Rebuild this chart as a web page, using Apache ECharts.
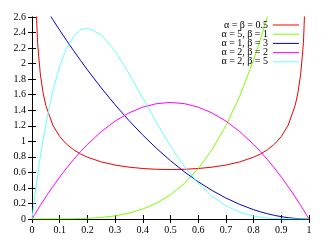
<!DOCTYPE html>
<html><head><meta charset="utf-8">
<script src="https://cdn.jsdelivr.net/npm/echarts@6/dist/echarts.min.js"></script>
<style>html,body{margin:0;padding:0;background:#fff}#c{width:329px;height:249px}</style>
</head><body><div id="c"></div>
<script>
var xs = [0,0.01,0.02,0.03,0.04,0.05,0.075,0.1,0.125,0.15,0.175,0.2,0.25,0.3,0.35,0.4,0.45,0.5,0.55,0.6,0.65,0.7,0.75,0.8,0.825,0.85,0.875,0.9,0.925,0.95,0.96,0.97,0.98,0.99,1];
var names = ['α = β = 0.5','α = 5, β = 1','α = 1, β = 3','α = 2, β = 2','α = 2, β = 5'];
var red = [6,3.199,2.274,1.866,1.624,1.461,1.2085,1.061,0.9625,0.8915,0.8377,0.7958,0.7351,0.6946,0.6674,0.6497,0.6398,0.6366,0.6398,0.6497,0.6674,0.6946,0.7351,0.7958,0.8377,0.8915,0.9625,1.061,1.2085,1.461,1.624,1.866,2.274,3.199,6];
var green = [0,0,0,0,0,0,0.0002,0.0005,0.0012,0.0025,0.0047,0.008,0.0195,0.0405,0.075,0.128,0.205,0.3125,0.4575,0.648,0.8925,1.2005,1.582,2.048,2.316,2.61,2.931,3.2805,3.66,4.07,4.25,4.43,4.61,4.8,5];
var blue = [3,2.9403,2.8812,2.8227,2.7648,2.7075,2.5669,2.43,2.2969,2.1675,2.0419,1.92,1.6875,1.47,1.2675,1.08,0.9075,0.75,0.6075,0.48,0.3675,0.27,0.1875,0.12,0.0919,0.0675,0.0469,0.03,0.0169,0.0075,0.0048,0.0027,0.0012,0.0003,0];
var magenta = [0,0.0594,0.1176,0.1746,0.2304,0.285,0.4163,0.54,0.6563,0.765,0.8663,0.96,1.125,1.26,1.365,1.44,1.485,1.5,1.485,1.44,1.365,1.26,1.125,0.96,0.8663,0.765,0.6563,0.54,0.4163,0.285,0.2304,0.1746,0.1176,0.0594,0];
var cyan = [0,0.2882,0.5534,0.7968,1.0192,1.2218,1.6472,1.9683,2.1982,2.349,2.432,2.4576,2.373,2.1609,1.8743,1.5552,1.2352,0.9375,0.6767,0.4608,0.2926,0.1701,0.0879,0.0384,0.0232,0.0129,0.0064,0.0027,0.0009,0.0002,0,0,0,0,0];
var colors = ['#ee0000','#77ff00','#0000cc','#ff00ff','#66ffff'];
var allY = [red, green, blue, magenta, cyan];

var font = 'Liberation Serif';
var chart = echarts.init(document.getElementById('c'), null, {renderer:'canvas'});
var axisLine = {show:true, lineStyle:{color:'#000', width:1}};
var tick = {show:true, inside:true, length:4, lineStyle:{color:'#000'}};
var series = allY.map(function(ys, i){
  return {name:names[i], type:'line', symbol:'none', clip:true, animation:false,
    lineStyle:{color:colors[i], width:1}, itemStyle:{color:colors[i]},
    data: xs.map(function(x, j){ return [x, ys[j]]; })};
});
var legends = names.map(function(n, i){
  return {data:[n], orient:'vertical', right:30, top:20 + i*9.2, padding:0, align:'right',
    itemWidth:26, itemHeight:8, itemGap:0, icon:'path://M0,4 L26,4 L26,5 L0,5 Z',
    textStyle:{fontFamily:font, fontSize:10, color:'#000', padding:[0,0,0,0]}, selectedMode:false};
});
chart.setOption({
  animation:false,
  backgroundColor:'#fff',
  grid:{left:32, right:20, top:17, bottom:30, containLabel:false},
  legend: legends,
  xAxis:[
    {type:'value', min:0, max:1, interval:0.1, position:'bottom', axisLine:axisLine, axisTick:tick, splitLine:{show:false},
     axisLabel:{fontFamily:font, fontSize:10, color:'#000', margin:6}},
    {type:'value', min:0, max:1, interval:0.1, position:'top', axisLine:axisLine, axisTick:tick, splitLine:{show:false}, axisLabel:{show:false}}
  ],
  yAxis:[
    {type:'value', min:0, max:2.6, interval:0.2, position:'left', axisLine:axisLine, axisTick:tick, splitLine:{show:false},
     axisLabel:{fontFamily:font, fontSize:10, color:'#000', margin:6}},
    {type:'value', min:0, max:2.6, interval:0.2, position:'right', axisLine:axisLine, axisTick:tick, splitLine:{show:false}, axisLabel:{show:false}}
  ],
  series: series
});
</script></body></html>
